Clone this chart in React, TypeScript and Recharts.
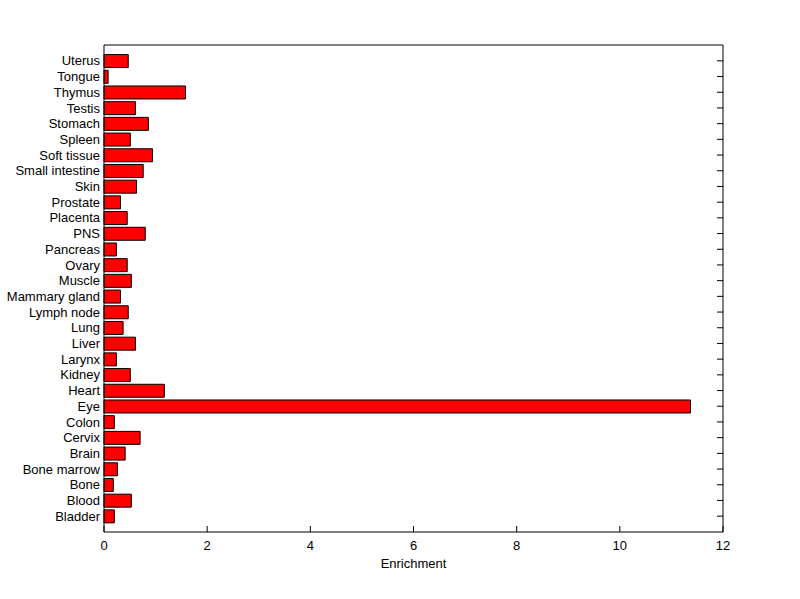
import { BarChart, Bar, XAxis, YAxis } from 'recharts';

// top to bottom, as in the figure
const tissues = [
  'Uterus', 'Tongue', 'Thymus', 'Testis', 'Stomach', 'Spleen', 'Soft tissue',
  'Small intestine', 'Skin', 'Prostate', 'Placenta', 'PNS', 'Pancreas', 'Ovary',
  'Muscle', 'Mammary gland', 'Lymph node', 'Lung', 'Liver', 'Larynx', 'Kidney',
  'Heart', 'Eye', 'Colon', 'Cervix', 'Brain', 'Bone marrow', 'Bone', 'Blood', 'Bladder',
];
const enrichment = [
  0.47, 0.08, 1.58, 0.61, 0.86, 0.51, 0.94,
  0.76, 0.63, 0.32, 0.45, 0.80, 0.24, 0.45,
  0.53, 0.32, 0.47, 0.37, 0.61, 0.24, 0.51,
  1.17, 11.37, 0.20, 0.70, 0.41, 0.26, 0.18, 0.53, 0.20,
];
const xTicks = [0, 2, 4, 6, 8, 10, 12];

const data = tissues.map((name, i) => ({ name, value: enrichment[i] }));

const FONT = '"Liberation Sans", Arial, sans-serif';
const TICK_LEN = 6;

function BottomTick({ x, y, payload }: any) {
  return (
    <g>
      <line x1={x} x2={x} y1={y} y2={y - TICK_LEN} stroke="#000" />
      <text x={x} y={y + 18} textAnchor="middle" fontSize={13} fontFamily={FONT} fill="#000">
        {payload.value}
      </text>
    </g>
  );
}

function TopTick({ x, y }: any) {
  return <line x1={x} x2={x} y1={y} y2={y + TICK_LEN} stroke="#000" />;
}

function LeftTick({ x, y, payload }: any) {
  return (
    <text x={x - 4} y={y} dy="0.35em" textAnchor="end" fontSize={13} fontFamily={FONT} fill="#000">
      {payload.value}
    </text>
  );
}

function RightTick({ x, y }: any) {
  return <line x1={x} x2={x - TICK_LEN} y1={y} y2={y} stroke="#000" />;
}

export default function App() {
  return (
    <div style={{ position: 'absolute', left: 0, top: 0, background: '#fff' }}>
      <BarChart
        width={800}
        height={599}
        data={data}
        layout="vertical"
        margin={{ top: 44, right: 76, bottom: 0, left: 0 }}
        barCategoryGap="10%"
      >
        <XAxis
          xAxisId="bottom"
          type="number"
          domain={[0, 12]}
          ticks={xTicks}
          height={67}
          tickSize={0}
          tickMargin={0}
          tickLine={false}
          tick={<BottomTick />}
          axisLine={{ stroke: '#000' }}
          label={{ value: 'Enrichment', position: 'insideBottom', offset: 31, fontSize: 13, fill: '#000', fontFamily: FONT }}
        />
        <XAxis
          xAxisId="top"
          orientation="top"
          type="number"
          domain={[0, 12]}
          ticks={xTicks}
          height={1}
          tickSize={0}
          tickMargin={0}
          tickLine={false}
          tick={<TopTick />}
          axisLine={{ stroke: '#000' }}
        />
        <YAxis
          yAxisId="left"
          type="category"
          dataKey="name"
          width={104}
          tickSize={0}
          tickMargin={0}
          tickLine={false}
          tick={<LeftTick />}
          interval={0}
          padding={{ top: 8, bottom: 8 }}
          axisLine={{ stroke: '#000' }}
        />
        <YAxis
          yAxisId="right"
          orientation="right"
          type="category"
          dataKey="name"
          width={1}
          tickSize={0}
          tickMargin={0}
          tickLine={false}
          tick={<RightTick />}
          interval={0}
          padding={{ top: 8, bottom: 8 }}
          axisLine={{ stroke: '#000' }}
        />
        <Bar
          xAxisId="bottom"
          yAxisId="left"
          dataKey="value"
          fill="#ff0000"
          stroke="#000"
          strokeWidth={1}
          isAnimationActive={false}
        />
      </BarChart>
    </div>
  );
}
